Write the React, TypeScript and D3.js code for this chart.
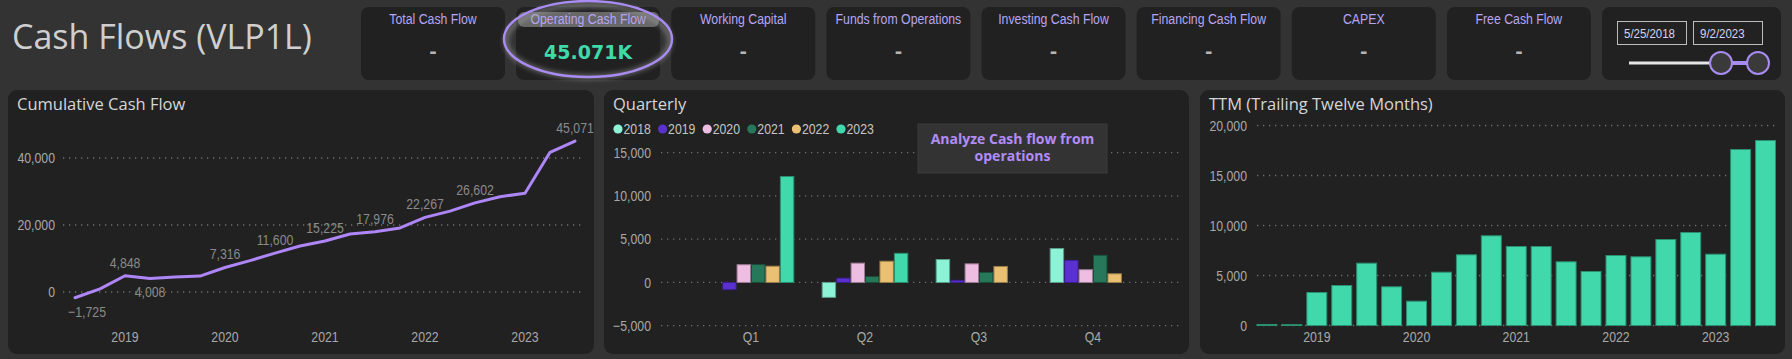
import React from 'react';
import * as d3 from 'd3';

const W = 1792;
const H = 359;

// ---------- data ----------
const kpiTitles = ['Total Cash Flow', 'Operating Cash Flow', 'Working Capital', 'Funds from Operations', 'Investing Cash Flow', 'Financing Cash Flow', 'CAPEX', 'Free Cash Flow'];
const kpiValues = ['-', '45.071K', '-', '-', '-', '-', '-', '-'];
const dateFrom = '5/25/2018';
const dateTo = '9/2/2023';

const periods = ['2018 Q2', '2018 Q3', '2018 Q4', '2019 Q1', '2019 Q2', '2019 Q3', '2019 Q4', '2020 Q1', '2020 Q2', '2020 Q3', '2020 Q4', '2021 Q1', '2021 Q2', '2021 Q3', '2021 Q4', '2022 Q1', '2022 Q2', '2022 Q3', '2022 Q4', '2023 Q1', '2023 Q2'];
const cumulative = [-1725, 925, 4848, 4008, 4508, 4758, 7316, 9366, 11600, 13750, 15225, 17295, 17976, 19126, 22267, 24147, 26602, 28452, 29452, 41702, 45071];
const cumulativeLabelled = [0, 2, 3, 6, 8, 10, 12, 14, 16, 20];
const cumulativeBelow = [0, 3];
const ttm = [100, 80, 3300, 4000, 6230, 3870, 2430, 5330, 7070, 8970, 7900, 7900, 6370, 5400, 7000, 6870, 8600, 9300, 7130, 17600, 18500];
const yearTickPeriods = ['2018 Q4', '2019 Q4', '2020 Q4', '2021 Q4', '2022 Q4'];
const yearTickLabels = ['2019', '2020', '2021', '2022', '2023'];

const quarters = ['Q1', 'Q2', 'Q3', 'Q4'];
const years = ['2018', '2019', '2020', '2021', '2022', '2023'];
const yearColors = ['#8DF3D6', '#5B30D0', '#EEBDE2', '#27785A', '#EAC173', '#41D9AC'];
const q2018 = [null, -1725, 2650, 3923];
const q2019 = [-840, 500, 250, 2558];
const q2020 = [2050, 2234, 2150, 1475];
const q2021 = [2070, 681, 1150, 3141];
const q2022 = [1880, 2455, 1850, 1000];
const q2023 = [12250, 3369, null, null];
const quarterlyByYear = [q2018, q2019, q2020, q2021, q2022, q2023];

const cumTicks = [0, 20000, 40000];
const qTicks = [-5000, 0, 5000, 10000, 15000];
const ttmTicks = [0, 5000, 10000, 15000, 20000];

// ---------- styles ----------
const SANS = "'Liberation Sans',Arial,sans-serif";
const TITLE_FONT = "'Open Sans',sans-serif";
const BG = '#333333';
const PANEL = '#212121';
const GRID = '#6e6e6e';
const AXIS_TXT = '#a8a8a8';
const LAVENDER = '#A98CF2';
const fmt = d3.format(',');

type NProps = { x: number; y: number; children: React.ReactNode; size?: number; fill?: string; anchor?: 'start' | 'middle' | 'end'; weight?: number; sx?: number };
function NText({ x, y, children, size = 15, fill = AXIS_TXT, anchor = 'start', weight = 400, sx = 0.82 }: NProps) {
  return (
    <text transform={`translate(${x},${y}) scale(${sx},1)`} dy="0.35em" textAnchor={anchor} fill={fill} fontFamily={SANS} fontSize={size} fontWeight={weight}>
      {children}
    </text>
  );
}

function Grid({ x1, x2, y }: { x1: number; x2: number; y: number }) {
  return <line x1={x1} x2={x2} y1={y} y2={y} stroke={GRID} strokeWidth={1.3} strokeDasharray="1.3 4.7" />;
}

function Panel({ x, w, title }: { x: number; w: number; title: string }) {
  return (
    <g>
      <rect x={x} y={90} width={w} height={264} rx={9} fill={PANEL} />
      <text x={x + 9} y={110} fill="#d6d6d6" fontFamily={TITLE_FONT} fontSize={16.5}>{title}</text>
    </g>
  );
}

function Cumulative() {
  const x = d3.scalePoint<string>().domain(periods).range([75, 575]);
  const y = d3.scaleLinear().domain([0, 40000]).range([292, 158]);
  const line = d3.line<number>().x((_, i) => x(periods[i]) as number).y((d) => y(d));
  return (
    <g>
      <Panel x={8} w={586} title="Cumulative Cash Flow" />
      {cumTicks.map((t) => (
        <g key={t}>
          <Grid x1={63} x2={582} y={y(t)} />
          <NText x={55} y={y(t)} anchor="end">{fmt(t)}</NText>
        </g>
      ))}
      {yearTickPeriods.map((p, i) => (
        <NText key={p} x={x(p) as number} y={337} anchor="middle">{yearTickLabels[i]}</NText>
      ))}
      <path d={line(cumulative) || ''} fill="none" stroke="#AE86F7" strokeWidth={3} strokeLinejoin="round" strokeLinecap="round" />
      {cumulativeLabelled.map((i) => {
        const below = cumulativeBelow.includes(i);
        const px = (x(periods[i]) as number) + (i === 0 ? 12 : 0);
        return (
          <NText key={i} x={px} y={y(cumulative[i]) + (below ? 13.5 : -13.5)} anchor="middle" fill="#8a8a8a">{fmt(cumulative[i])}</NText>
        );
      })}
    </g>
  );
}

function Quarterly() {
  const x0 = d3.scaleBand<string>().domain(quarters).range([694, 1150]).paddingInner(0.24).paddingOuter(0.12);
  const x1 = d3.scaleBand<string>().domain(years).range([0, x0.bandwidth()]);
  const y = d3.scaleLinear().domain([-5000, 15000]).range([325.7, 152.7]);
  const legendX = d3.scaleLinear().domain([0, years.length - 1]).range([618, 841]);
  return (
    <g>
      <Panel x={604} w={585} title="Quarterly" />
      {years.map((yr, i) => (
        <g key={yr}>
          <circle cx={legendX(i)} cy={129} r={4.6} fill={yearColors[i]} />
          <NText x={legendX(i) + 5.5} y={129} fill="#c4c4c4">{yr}</NText>
        </g>
      ))}
      {qTicks.map((t) => (
        <g key={t}>
          <Grid x1={661} x2={1183} y={y(t)} />
          <NText x={651} y={y(t)} anchor="end">{fmt(t)}</NText>
        </g>
      ))}
      {quarters.map((q) => (
        <NText key={q} x={(x0(q) as number) + x0.bandwidth() / 2} y={337} anchor="middle">{q}</NText>
      ))}
      {quarterlyByYear.map((vals, yi) =>
        vals.map((v, qi) => {
          if (v === null) return null;
          const bx = (x0(quarters[qi]) as number) + (x1(years[yi]) as number);
          const top = y(Math.max(0, v));
          const bot = y(Math.min(0, v));
          return (
            <rect key={yi + '-' + qi} x={bx + 0.5} y={top} width={x1.bandwidth() - 1} height={bot - top}
              fill={yearColors[yi]} stroke={d3.color(yearColors[yi])!.darker(1.2).formatHex()} strokeWidth={1} />
          );
        })
      )}
      <rect x={918} y={124} width={189} height={49} fill="#333333" stroke="#3d3d3d" />
      <text x={1012.5} y={139} dy="0.35em" textAnchor="middle" fill="#B28CF8" fontFamily={TITLE_FONT} fontWeight={700} fontSize={14}>Analyze Cash flow from</text>
      <text x={1012.5} y={156} dy="0.35em" textAnchor="middle" fill="#B28CF8" fontFamily={TITLE_FONT} fontWeight={700} fontSize={14}>operations</text>
    </g>
  );
}

function TTM() {
  const x = d3.scaleBand<string>().domain(periods).range([1254.5, 1778]).paddingInner(0.2).paddingOuter(0.1);
  const y = d3.scaleLinear().domain([0, 20000]).range([325.5, 125.5]);
  return (
    <g>
      <Panel x={1200} w={585} title="TTM (Trailing Twelve Months)" />
      {ttmTicks.map((t) => (
        <g key={t}>
          <Grid x1={1257} x2={1775} y={y(t)} />
          <NText x={1247} y={y(t)} anchor="end">{fmt(t)}</NText>
        </g>
      ))}
      {periods.map((p, i) => (
        <rect key={p} x={x(p)} y={y(ttm[i])} width={x.bandwidth()} height={y(0) - y(ttm[i])} fill="#41D9AC" stroke="#2a8f70" strokeWidth={1} />
      ))}
      {yearTickPeriods.map((p, i) => (
        <NText key={p} x={(x(p) as number) + x.bandwidth() / 2} y={337} anchor="middle">{yearTickLabels[i]}</NText>
      ))}
    </g>
  );
}

function Header() {
  const cardX = d3.scaleLinear().domain([0, kpiTitles.length]).range([361, 1602]);
  return (
    <g>
      <text x={12} y={49} fill="#cfcfcf" fontFamily={TITLE_FONT} fontSize={34}>Cash Flows (VLP1L)</text>
      {kpiTitles.map((t, i) => {
        const cx = cardX(i);
        const mid = cx + 72;
        const isActive = kpiValues[i] !== '-';
        return (
          <g key={t}>
            <rect x={cx} y={7} width={144} height={73} rx={8} fill={PANEL} />
            {isActive && <rect x={cx + 2} y={12} width={141} height={15} rx={6} fill="#686868" />}
            <NText x={mid} y={19} anchor="middle" fill="#B7A5F2">{t}</NText>
            <text x={mid} y={52} dy="0.35em" textAnchor="middle" fill={isActive ? '#3FD9AA' : '#b5b5b5'} fontFamily="'DejaVu Sans',sans-serif" fontWeight={700} fontSize={isActive ? 19 : 18}>{kpiValues[i]}</text>
          </g>
        );
      })}
      <defs>
        <filter id="glow" x="-20%" y="-20%" width="140%" height="140%">
          <feGaussianBlur stdDeviation="2.5" />
        </filter>
      </defs>
      <ellipse cx={588} cy={41} rx={82} ry={36} fill="none" stroke="#a0a0a0" strokeWidth={5} opacity={0.55} filter="url(#glow)" />
      <ellipse cx={588} cy={39} rx={84} ry={38} fill="none" stroke={LAVENDER} strokeWidth={2.4} />
      {/* date slicer */}
      <rect x={1602} y={7} width={179} height={73} rx={8} fill={PANEL} />
      <rect x={1617.5} y={21.5} width={69} height={23} fill="#222" stroke="#bdbdbd" />
      <rect x={1693.5} y={21.5} width={69} height={23} fill="#222" stroke="#bdbdbd" />
      <NText x={1624} y={33} size={13.5} fill="#d6d2f0" sx={0.85}>{dateFrom}</NText>
      <NText x={1700} y={33} size={13.5} fill="#d6d2f0" sx={0.85}>{dateTo}</NText>
      <line x1={1629} x2={1712} y1={63} y2={63} stroke="#e6e6e6" strokeWidth={3} />
      <line x1={1730} x2={1749} y1={63} y2={63} stroke={LAVENDER} strokeWidth={4} />
      <circle cx={1721} cy={63} r={11} fill="#3a3a3a" stroke={LAVENDER} strokeWidth={2} />
      <circle cx={1758} cy={63} r={11} fill="#3a3a3a" stroke={LAVENDER} strokeWidth={2} />
    </g>
  );
}

export default function App() {
  return (
    <svg width={W} height={H} viewBox={`0 0 ${W} ${H}`} style={{ position: 'absolute', left: 0, top: 0, display: 'block' }}>
      <rect x={0} y={0} width={W} height={H} fill={BG} />
      <Header />
      <Cumulative />
      <Quarterly />
      <TTM />
    </svg>
  );
}
